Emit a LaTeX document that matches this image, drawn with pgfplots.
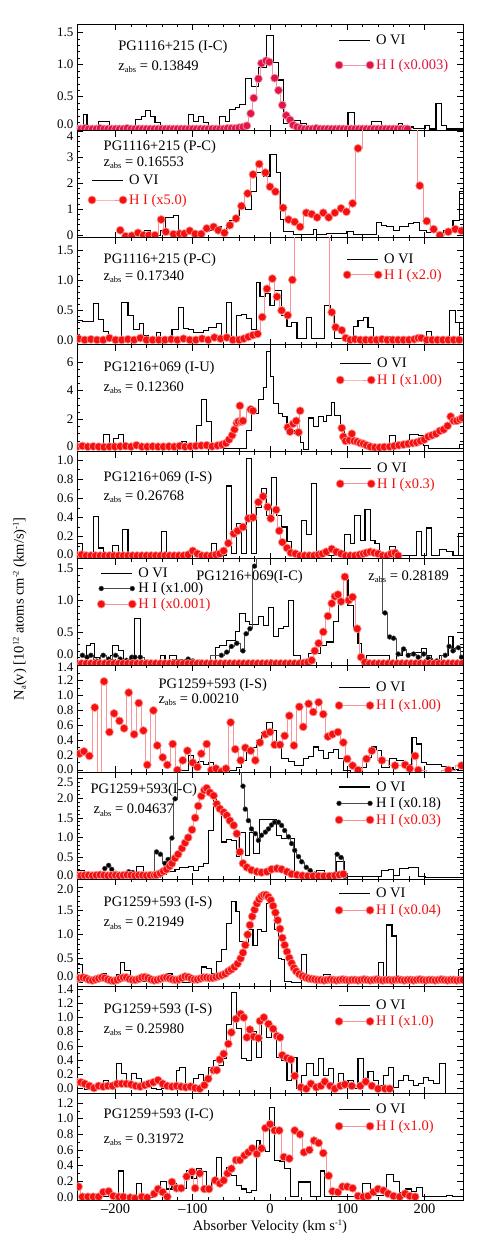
\documentclass[border=0pt]{standalone}
\usepackage{fontspec}
\setmainfont{Liberation Serif}
\usepackage{pgfplots}
\pgfplotsset{compat=1.18}
\definecolor{crim}{RGB}{225,20,70}
\definecolor{hired}{RGB}{245,15,15}
\newcommand\ff{\fontsize{14.5}{17}\selectfont}
\newcommand\sub[1]{\raisebox{-0.35ex}{\fontsize{8.5}{9}\selectfont #1}}
\newcommand\sups[1]{\raisebox{0.75ex}{\fontsize{8.5}{9}\selectfont #1}}
\pgfplotsset{
 panel/.style={width=386pt,height=106.9pt,scale only axis,anchor=north west,
  xmin=-250,xmax=250,xtick={-200,-100,0,100,200},minor x tick num=4,xticklabels={},
  tick align=inside,major tick length=6pt,minor tick length=3pt,
  tick style={black,line width=0.6pt},axis line style={line width=0.8pt},
  clip marker paths=true,unbounded coords=jump,
  xticklabel style={font=\ff},yticklabel style={font=\fontsize{13}{15}\selectfont},
  /pgf/number format/assume math mode=true,
  legend style={draw=none,fill=none,font=\ff,inner sep=0pt,anchor=north west,row sep=1pt,cells={anchor=west}},
  legend cell align=left,
  legend image code/.code={\draw[##1] plot coordinates {(0pt,0pt) (31pt,0pt)};}},
 ytl/.style n args={4}{yticklabel={\ifdim\tick pt<0.001pt\relax\raisebox{#3pt}[\height][\depth]{\pgfmathprintnumber[fixed,fixed zerofill,precision=#2]{\tick}}\else\ifdim\tick pt>#1pt\relax\raisebox{-#4pt}[\height][\depth]{\pgfmathprintnumber[fixed,fixed zerofill,precision=#2]{\tick}}\else\pgfmathprintnumber[fixed,fixed zerofill,precision=#2]{\tick}\fi\fi}},
 ovi/.style={black,line width=1.1pt,const plot,mark=none},
 hi/.style={hired!45,line width=0.7pt,const plot mark mid,mark=*,mark size=4pt,mark options={draw=none,fill=hired}},
 hic/.style={crim!45,line width=0.7pt,const plot mark mid,mark=*,mark size=4pt,mark options={draw=none,fill=crim}},
 hib/.style={black!70,line width=0.5pt,const plot mark mid,mark=*,mark size=2.4pt,mark options={draw=none,fill=black}},
}
\begin{document}
\begin{tikzpicture}
\useasboundingbox (-77pt,24pt) rectangle (408pt,-1225pt);
% ---------- Panel 1
\begin{axis}[panel,at={(0pt,0pt)},ymin=-0.03,ymax=1.63,ytick={0,0.5,1,1.5},minor y tick num=4,ytl={99}{1}{5}{0},
 legend style={at={(rel axis cs:0.668,0.916)},row sep=9pt}]
\addplot[ovi] coordinates {(-250,0.03)(-242,0.22)(-237,0.01)(-222,0.11)(-208,0.03)(-200,0.05)(-194,0.01)(-187,0.04)(-181,0.01)(-174,0.14)(-166,0.2)(-161,0.28)(-155,0.2)(-149,0.1)(-142,0.02)(-106,0.22)(-99,0.11)(-93,0.2)(-86,0.1)(-80,0.02)(-65,0.2)(-58,0.12)(-52,0.3)(-45,0.34)(-39,0.38)(-32,0.79)(-24,0.66)(-15,0.95)(-4,1.45)(4,1.03)(11,0.76)(17,0.08)(26,0.04)(32,0.13)(40,0.08)(47,0.03)(60,0.02)(101,0.25)(110,0.01)(132,0.12)(145,0.01)(166,0.09)(172,0.06)(179,0.03)(186,0.01)(201,0.06)(207,0.0)(215,0.4)(222,0.05)(229,0.0)(250,0.0)};
\addlegendentry{O VI}
\addplot[hic] coordinates {(-250,0)(-245,0)(-240,0.01)(-235,0)(-230,0)(-225,0)(-220,0.01)(-215,0)(-210,0)(-205,0)(-200,0)(-195,0)(-190,0)(-185,0.01)(-180,0)(-175,0)(-170,0)(-165,0)(-160,0)(-155,0)(-150,0)(-145,0)(-140,0)(-135,0)(-130,0)(-125,0)(-120,0)(-115,0)(-110,0)(-105,0)(-100,0)(-95,0)(-90,0)(-85,0)(-80,0)(-75,0)(-70,0)(-65,0)(-60,0)(-55,0.01)(-50,0.01)(-45,0.01)(-40,0.02)(-35,0.03)(-30,0.05)(-25,0.24)(-21,0.48)(-15,0.78)(-11,1.02)(-5,1.06)(-1,1.04)(6,0.79)(11,0.6)(16,0.37)(21,0.21)(26,0.14)(30,0.06)(35,0.03)(40,0.01)(45,0)(50,0)(55,0)(60,0.01)(65,0)(70,0)(75,0)(80,0)(85,0)(90,0)(95,0)(100,0)(105,0)(110,0)(115,0)(120,0)(125,0)(130,0)(135,0)(140,0)(145,0)(150,0)(155,0)(160,0)(165,0)(170,0)(175,0)(178,0)};
\addlegendentry{\textcolor{crim}{H I (x0.003)}}
\node[anchor=west,font=\ff] at (rel axis cs:0.098,0.785) {PG1116+215 (I-C)};
\node[anchor=west,font=\ff] at (rel axis cs:0.098,0.598) {z\sub{abs} = 0.13849};
\end{axis}
% ---------- Panel 2
\begin{axis}[panel,at={(0pt,-106.9pt)},ymin=-0.1,ymax=4.0,ytick={0,1,2,3,4},minor y tick num=4,ytl={3.9}{0}{0}{5},
 legend style={at={(rel axis cs:0.028,0.607)},row sep=4pt}]
\addplot[ovi] coordinates {(-192,0.0)(-183,0.04)(-175,0.0)(-162,0.19)(-155,0.06)(-149,0.0)(-142,0.19)(-135,0.68)(-125,0.77)(-119,0.04)(-114,0.13)(-104,0.06)(-95,0.04)(-86,0.13)(-78,0.19)(-69,0.32)(-63,0.13)(-56,0.35)(-52,0.58)(-45,0.77)(-39,1.06)(-32,0.99)(-24,1.67)(-17,2.4)(-9,2.24)(0,3.1)(8,2.4)(14,0.6)(18,0.13)(30,0.04)(56,0.22)(60,0.04)(73,0.06)(99,0.13)(108,0.04)(138,0.5)(145,0.38)(151,0.32)(160,0.19)(168,0.32)(179,0.45)(186,0.5)(194,0.19)(203,0.09)(225,0.19)(237,0.58)(246,1.67)(250,1.67)};
\addlegendentry{O VI}
\addplot[hi] coordinates {(-194,0.19)(-187,-0.04)(-179,-0.02)(-171,0.09)(-164,0.0)(-157,0.0)(-149,0.0)(-141,0.6)(-135,0.13)(-125,0.04)(-117,0.06)(-111,0.06)(-104,0.17)(-97,0.05)(-89,0.05)(-82,0.26)(-73,0.32)(-67,0.19)(-59,0.09)(-52,0.38)(-44,0.64)(-37,1.12)(-29,1.6)(-22,2.33)(-14,2.73)(-6,2.4)(0,1.86)(7,1.67)(17,1.05)(24,0.6)(32,0.51)(39,0.32)(47,0.86)(54,0.81)(61,0.68)(69,0.86)(76,0.68)(84,0.86)(92,1.03)(99,0.9)(107,1.22)(114,3.33)(124,9)(134,9)(144,9)(154,9)(164,9)(174,9)(189,9)(194,1.9)(203,0.54)(212,0.23)(220,0.0)(231,0.13)(240,0.23)(248,0.17)};
\addlegendentry{\textcolor{hired}{H I (x5.0)}}
\node[anchor=west,font=\ff] at (rel axis cs:0.06,0.85) {PG1116+215 (P-C)};
\node[anchor=west,font=\ff] at (rel axis cs:0.06,0.70) {z\sub{abs} = 0.16553};
\end{axis}
% ---------- Panel 3
\begin{axis}[panel,at={(0pt,-213.8pt)},ymin=-0.08,ymax=1.7,ytick={0,0.5,1,1.5},minor y tick num=4,ytl={1.4}{1}{0}{0},
 legend style={at={(rel axis cs:0.689,0.87)},row sep=0pt}]
\addplot[ovi] coordinates {(-250,0.33)(-243,0.31)(-229,0.6)(-222,0.34)(-216,0.14)(-209,0.02)(-192,0.63)(-184,0.4)(-177,0.17)(-169,0.28)(-164,0.07)(-158,0.02)(-147,0.12)(-142,0.03)(-127,0.18)(-119,0.54)(-112,0.19)(-106,0.17)(-99,0.12)(-86,0.15)(-80,0.21)(-69,0.27)(-63,0.03)(-56,0.63)(-50,0.03)(-43,0.4)(-37,0.43)(-30,0.35)(-24,0.17)(-18,0.96)(-13,0.72)(-6,0.77)(0,0.57)(6,0.82)(15,0.4)(22,0.23)(28,0.29)(35,0.02)(47,0.37)(54,0.02)(71,0.57)(78,0.49)(84,0.03)(108,0.23)(114,0.32)(121,0.37)(127,0.2)(134,0.03)(150,0.05)(160,0.02)(203,0.14)(209,0.03)(233,0.49)(240,0.29)(246,0.02)(250,0.02)};
\addlegendentry{O VI}
\addplot[hi] coordinates {(-248,0.02)(-240,0.0)(-232,0.01)(-224,0.0)(-216,0.0)(-208,0.03)(-200,0.0)(-192,0.0)(-184,0.01)(-176,0.0)(-168,0.03)(-160,0.0)(-152,0.0)(-144,0.0)(-136,0.0)(-128,0.01)(-120,0.0)(-112,0.02)(-104,0.0)(-96,0.0)(-88,0.02)(-80,0.0)(-72,0.04)(-64,0.02)(-56,0.04)(-48,0.0)(-40,0.0)(-34,0.02)(-28,0.05)(-22,0.08)(-16,0.1)(-10,0.38)(-4,0.85)(3,1.02)(9,0.72)(15,0.49)(23,0.41)(29,1.0)(35,5)(45,5)(55,5)(65,5)(75,5)(80,0.46)(85,0.21)(93,0.16)(98,0.03)(104,0.0)(110,0.01)(117,0.0)(124,0.0)(131,0.0)(138,0.0)(145,0.01)(152,0.0)(159,0.0)(166,0.0)(173,0.0)(180,0.0)(187,0.01)(192,0.03)(196,0.03)(203,0.0)(210,0.0)(217,0.0)(224,0.0)(231,0.0)(238,0.0)(245,0.0)};
\addlegendentry{\textcolor{hired}{H I (x2.0)}}
\node[anchor=west,font=\ff] at (rel axis cs:0.06,0.794) {PG1116+215 (P-C)};
\node[anchor=west,font=\ff] at (rel axis cs:0.06,0.636) {z\sub{abs} = 0.17340};
\end{axis}
% ---------- Panel 4
\begin{axis}[panel,at={(0pt,-320.7pt)},ymin=-0.24,ymax=7.2,ytick={0,2,4,6},minor y tick num=3,ytl={5.9}{0}{2}{0},
 legend style={at={(rel axis cs:0.671,0.895)},row sep=1pt}]
\addplot[ovi] coordinates {(-250,0.05)(-243,0.0)(-216,0.94)(-208,0.3)(-203,0.66)(-196,0.94)(-190,0.07)(-186,0.0)(-175,0.05)(-168,0.0)(-114,0.47)(-108,0.0)(-95,1.6)(-89,3.4)(-82,1.84)(-76,0.19)(-69,0.0)(-30,1.25)(-24,2.42)(-15,3.36)(-9,4.19)(-4,6.73)(1,5.0)(5,3.13)(11,2.42)(16,2.19)(22,1.53)(28,1.25)(32,1.0)(39,0.42)(43,-0.1)(50,2.1)(56,1.48)(63,2.2)(69,1.84)(73,2.3)(80,3.2)(84,2.3)(91,1.6)(97,0.42)(104,0.3)(132,0.05)(155,0.9)(162,0.05)(181,0.94)(192,0.85)(199,0.2)(205,0.0)(246,0.25)(250,0.25)};
\addlegendentry{O VI}
\addplot[hi] coordinates {(-250,0.1)(-243,0.15)(-236,0.1)(-229,0.12)(-222,0.1)(-215,0.08)(-208,0.1)(-201,0.1)(-194,0.12)(-187,0.14)(-180,0.1)(-173,0.2)(-166,0.1)(-159,0.1)(-152,0.12)(-145,0.1)(-138,0.1)(-131,0.12)(-124,0.1)(-117,0.15)(-110,0.1)(-103,0.12)(-96,0.15)(-89,0.18)(-82,0.2)(-75,0.12)(-68,0.18)(-62,0.25)(-57,0.35)(-53,0.6)(-49,0.9)(-46,1.3)(-43,1.75)(-41,1.85)(-39,2.95)(-37,1.85)(-35,1.9)(-25,2.7)(-22,2.6)(0,nan)(23,1.45)(26,1.15)(30,1.7)(34,1.9)(37,1.1)(39,2.6)(60,nan)(93,1.4)(95,0.8)(98,0.5)(103,0.55)(106,1.0)(109,0.5)(113,0.45)(117,0.35)(121,0.3)(125,0.2)(130,0.1)(136,0.05)(142,0.05)(148,0.08)(155,0.1)(161,0.15)(167,0.2)(173,0.25)(179,0.3)(185,0.35)(190,0.4)(195,0.5)(200,0.6)(205,0.8)(210,0.9)(215,1.0)(220,1.2)(225,1.3)(230,1.55)(234,2.2)(238,1.9)(242,1.9)(246,2.0)(249,2.1)};
\addlegendentry{\textcolor{hired}{H I (x1.00)}}
\node[anchor=west,font=\ff] at (rel axis cs:0.06,0.785) {PG1216+069 (I-U)};
\node[anchor=west,font=\ff] at (rel axis cs:0.06,0.598) {z\sub{abs} = 0.12360};
\end{axis}
% ---------- Panel 5
\begin{axis}[panel,at={(0pt,-427.6pt)},ymin=-0.03,ymax=1.09,ytick={0,0.2,0.4,0.6,0.8,1.0},minor y tick num=1,ytl={0.9}{1}{1.5}{0},
 legend style={at={(rel axis cs:0.671,0.915)},row sep=0pt}]
\addplot[ovi] coordinates {(-250,0.13)(-243,0.0)(-229,0.41)(-222,0.08)(-216,0.0)(-204,0.11)(-196,0.0)(-191,0.27)(-184,0.0)(-140,0.25)(-134,0.0)(-127,0.02)(-121,0.0)(-101,0.03)(-95,0.0)(-76,0.13)(-69,0.0)(-56,0.73)(-50,0.02)(-43,0.34)(-37,0.02)(-30,1.02)(-24,0.02)(-17,0.5)(-11,0.7)(-4,0.42)(2,0.82)(9,0.42)(15,0.3)(22,0.15)(28,0.02)(41,0.37)(47,0.22)(54,0.76)(60,0.0)(97,0.22)(104,0.13)(110,0.42)(117,0.16)(123,0.48)(130,0.16)(136,0.13)(142,0.0)(155,0.1)(162,0.0)(190,0.25)(196,0.0)(203,0.29)(209,0.0)(220,0.06)(229,0.04)(237,0.0)(244,0.23)(250,0.23)};
\addlegendentry{O VI}
\addplot[hi] coordinates {(-250,0.0)(-244,0.01)(-238,0.0)(-232,0.0)(-226,0.0)(-220,0.0)(-214,0.0)(-208,0.0)(-202,0.0)(-196,0.0)(-190,0.0)(-184,0.0)(-178,0.0)(-172,0.0)(-166,0.0)(-160,0.0)(-154,0.0)(-148,0.0)(-142,0.0)(-136,0.0)(-130,0.0)(-124,0.0)(-118,0.0)(-112,0.0)(-106,0.01)(-100,0.05)(-94,0.02)(-88,0.0)(-82,0.0)(-76,0.0)(-70,0.01)(-65,0.02)(-60,0.05)(-54,0.13)(-47,0.23)(-42,0.26)(-35,0.3)(-28,0.39)(-22,0.4)(-15,0.56)(-9,0.62)(-3,0.51)(1,0.39)(8,0.48)(12,0.26)(16,0.14)(22,0.08)(27,0.03)(33,0.02)(39,0.0)(45,0.0)(51,0.0)(57,0.0)(63,0.01)(68,0.02)(73,0.04)(80,0.07)(86,0.04)(92,0.02)(98,0.0)(104,0.0)(110,0.0)(116,0.01)(121,0.02)(125,0.03)(130,0.04)(135,0.03)(140,0.02)(146,0.0)(152,0.0)(157,0.02)(162,0.03)(166,0.0)};
\addlegendentry{\textcolor{hired}{H I (x0.3)}}
\node[anchor=west,font=\ff] at (rel axis cs:0.06,0.757) {PG1216+069 (I-S)};
\node[anchor=west,font=\ff] at (rel axis cs:0.06,0.579) {z\sub{abs} = 0.26768};
\end{axis}
% ---------- Panel 6
\begin{axis}[panel,at={(0pt,-534.5pt)},ymin=-0.03,ymax=1.66,ytick={0,0.5,1,1.5},minor y tick num=4,ytl={1.4}{1}{9}{0},
 ylabel={N\sub{a}(v) [10\sups{12} atoms cm\sups{-2} (km/s)\sups{-1}]},
 ylabel style={font=\ff,at={(rel axis cs:-0.148,0.53)},anchor=center},
 legend style={at={(rel axis cs:0.052,0.935)},row sep=0pt}]
\addplot[ovi] coordinates {(-250,0.03)(-238,0.29)(-232,0.32)(-227,0.1)(-221,0.02)(-207,0.13)(-204,0.29)(-196,0.21)(-190,0.02)(-181,0.1)(-175,0.71)(-168,0.02)(-162,0.0)(-142,0.13)(-136,0.05)(-130,0.13)(-121,0.02)(-71,0.26)(-65,0.29)(-56,0.37)(-45,0.5)(-39,0.79)(-32,0.66)(-26,0.62)(-15,0.74)(-9,0.6)(-2,0.89)(4,0.42)(11,0.55)(17,0.58)(24,1.0)(30,0.13)(39,0.05)(50,0.16)(65,0.29)(73,0.34)(82,0.66)(89,0.95)(95,1.33)(101,0.92)(108,0.55)(114,0.32)(119,0.02)(125,0.13)(155,0.05)(164,0.13)(171,0.21)(177,0.16)(186,0.17)(196,0.24)(203,0.13)(209,0.02)(220,0.13)(231,0.42)(237,0.24)(244,0.26)(250,0.26)};
\addlegendentry{O VI}
\addplot[hib] coordinates {(-243,0.13)(-237,0.1)(-232,0.13)(-225,0.04)(-216,0.13)(-209,0.07)(-200,0.13)(-194,0.07)(-186,0.05)(-179,0.1)(-175,0.1)(-168,0.1)(-158,0.02)(-147,0.01)(-106,0.07)(-100,0.04)(-91,0.02)(-63,0.13)(-56,0.18)(-50,0.27)(-43,0.32)(-35,0.2)(-31,0.47)(-26,0.55)(-20,1.54)(-15,9)(0,9)(20,9)(40,9)(60,9)(80,9)(100,9)(120,9)(142,9)(149,0.8)(155,0.42)(160,0.4)(166,0.15)(173,0.23)(179,0.13)(186,0.15)(192,0.1)(199,0.15)(205,0.08)(216,0.04)(227,0.13)(232,0.27)(237,0.2)(244,0.25)(248,0.1)};
\addlegendentry{H I (x1.00)}
\addplot[hi] coordinates {(-250,0)(-244,0)(-238,0)(-232,0)(-226,0)(-220,0)(-214,0)(-208,0)(-202,0)(-196,0)(-190,0)(-184,0)(-178,0)(-172,0)(-166,0)(-160,0)(-154,0)(-148,0)(-142,0)(-136,0)(-130,0)(-124,0)(-118,0)(-112,0)(-106,0)(-100,0)(-94,0)(-88,0)(-82,0)(-76,0)(-70,0)(-64,0)(-58,0)(-52,0)(-46,0)(-40,0)(-34,0)(-28,0)(-22,0)(-16,0)(-10,0)(-4,0)(2,0)(8,0)(14,0)(20,0)(26,0)(32,0)(38,0)(44,0.01)(49,0.02)(54,0.05)(58,0.2)(63,0.32)(69,0.5)(75,0.75)(80,0.95)(84,1.06)(88,1.09)(92,0.98)(97,1.37)(102,1.0)(107,1.05)(113,0.55)(118,0.1)(123,0.02)(129,0)(135,0)(141,0)(147,0)(153,0)(159,0)(165,0)(171,0)(177,0)(183,0)(189,0)(195,0)(201,0)(207,0)(213,0)(219,0)(225,0)(231,0)(237,0)(243,0)(249,0)};
\addlegendentry{\textcolor{hired}{H I (x0.001)}}
\node[anchor=west,font=\ff] at (rel axis cs:0.30,0.83) {PG1216+069(I-C)};
\node[anchor=west,font=\ff] at (rel axis cs:0.746,0.83) {z\sub{abs} = 0.28189};
\end{axis}
% ---------- Panel 7
\begin{axis}[panel,at={(0pt,-641.4pt)},ymin=-0.03,ymax=1.405,ytick={0,0.2,0.4,0.6,0.8,1.0,1.2,1.4},minor y tick num=1,ytl={1.3}{1}{1}{1.5},
 legend style={at={(rel axis cs:0.668,0.869)},row sep=3pt}]
\addplot[ovi] coordinates {(-123,0.0)(-106,0.2)(-99,0.1)(-93,0.12)(-86,0.07)(-80,0.1)(-73,0.0)(-65,-0.03)(-52,0.0)(-43,0.04)(-37,0.13)(-30,0.24)(-24,0.3)(-17,0.4)(-11,0.51)(-4,0.64)(3,0.53)(9,0.3)(15,0.16)(24,0.12)(32,0.06)(43,0.15)(50,0.18)(56,0.31)(63,0.26)(69,0.16)(76,0.24)(82,0.28)(89,0.16)(95,0.0)(104,-0.03)(117,0.03)(125,0.17)(132,0.31)(138,0.26)(145,0.04)(155,0.16)(164,0.13)(173,0.08)(184,0.44)(190,0.35)(196,0.1)(203,0.07)(214,0.07)(222,0.05)(231,0.03)(237,0.01)(244,0.04)(250,0.04)};
\addlegendentry{O VI}
\addplot[hi] coordinates {(-247,0.22)(-241,0.25)(-234,0.19)(-227,0.84)(-221,-0.05)(-215,1.19)(-208,0.51)(-202,0.76)(-195,0.66)(-189,0.56)(-183,1.04)(-176,0.48)(-170,0.9)(-164,0.53)(-159,0.07)(-151,0.8)(-146,0.33)(-139,0.17)(-133,0.07)(-126,0.35)(-120,0.0)(-113,0.13)(-107,0.26)(-100,0.1)(-94,0.04)(-89,0.22)(-82,0.35)(-76,0.0)(-70,0.02)(-63,-0.02)(-57,0.02)(-51,0.64)(-45,0.28)(-38,0.13)(-32,0.3)(-25,0.26)(-19,0.13)(-13,0.37)(-6,0.48)(0,0.51)(6,0.34)(13,0.34)(19,0.46)(25,0.73)(31,0.33)(38,0.85)(43,0.58)(50,0.89)(56,0.78)(63,0.91)(69,0.75)(75,0.45)(81,0.48)(88,0.51)(95,0.37)(100,0.15)(107,0.06)(114,0.0)(125,0.15)(132,0.26)(145,0.13)(162,0.06)(175,0.07)(181,0.02)(188,0.19)(192,0.0)(212,-0.05)(231,0.0)(248,0.06)};
\addlegendentry{\textcolor{hired}{H I (x1.00)}}
\node[anchor=west,font=\ff] at (rel axis cs:0.202,0.82) {PG1259+593 (I-S)};
\node[anchor=west,font=\ff] at (rel axis cs:0.202,0.68) {z\sub{abs} = 0.00210};
\end{axis}
% ---------- Panel 8
\begin{axis}[panel,at={(0pt,-748.3pt)},ymin=-0.05,ymax=2.65,ytick={0,0.5,1,1.5,2,2.5},minor y tick num=4,ytl={2.4}{1}{2}{4},
 legend style={at={(rel axis cs:0.668,0.935)},row sep=1pt}]
\addplot[ovi] coordinates {(-250,0.18)(-240,0.06)(-225,0.02)(-173,0.27)(-164,0.02)(-153,0.0)(-142,0.08)(-134,0.14)(-123,0.2)(-117,0.25)(-106,0.28)(-99,0.18)(-93,0.27)(-86,0.35)(-80,1.17)(-73,2.03)(-69,1.7)(-63,0.89)(-56,0.95)(-50,0.93)(-43,0.52)(-39,1.14)(-32,0.56)(-26,1.14)(-21,0.6)(-14,1.45)(9,1.06)(15,0.98)(32,0.0)(60,0.17)(71,0.08)(86,0.39)(97,0.02)(145,0.17)(153,0.2)(160,0.05)(168,0.22)(179,0.25)(192,0.02)(201,0.0)(250,0.0)};
\addlegendentry{O VI}
\addplot[hib] coordinates {(-214,0.22)(-209,0.3)(-205,0.2)(-200,0.1)(-190,0.05)(-183,0.14)(-178,0.12)(-170,0.05)(-160,0.03)(-153,0.05)(-147,0.64)(-142,0.58)(-136,0.35)(-132,0.45)(-127,0.99)(-123,1.98)(-118,9)(-80,9)(-40,9)(-35,2.3)(-32,1.72)(-28,1.43)(-24,1.22)(-19,1.1)(-15,0.93)(-11,1.06)(-6,1.14)(-2,1.22)(2,1.32)(6,1.39)(11,1.39)(15,1.31)(19,1.18)(24,1.02)(28,0.85)(32,0.68)(37,0.52)(41,0.39)(47,0.25)(52,0.17)(58,0.08)(65,0.04)(73,0.03)(81,0.06)(87,0.58)(92,0.5)(97,0.02)};
\addlegendentry{H I (x0.18)}
\addplot[hi] coordinates {(-250,0.05)(-245,0.04)(-240,0.05)(-235,0.05)(-230,0.04)(-225,0.05)(-220,0.06)(-215,0.05)(-210,0.04)(-205,0.05)(-200,0.05)(-195,0.04)(-190,0.05)(-185,0.06)(-180,0.05)(-175,0.04)(-170,0.05)(-165,0.05)(-160,0.04)(-155,0.05)(-150,0.05)(-147,0.06)(-142,0.1)(-138,0.15)(-134,0.2)(-130,0.28)(-127,0.35)(-123,0.48)(-119,0.58)(-114,0.73)(-110,0.87)(-106,1.0)(-101,1.2)(-97,1.5)(-93,1.8)(-89,2.05)(-85,2.2)(-82,2.25)(-78,2.14)(-73,2.06)(-69,1.85)(-65,1.73)(-60,1.64)(-56,1.56)(-52,1.43)(-47,1.31)(-43,1.1)(-39,0.64)(-35,0.35)(-30,0.25)(-24,0.18)(-17,0.14)(-11,0.12)(-4,0.14)(2,0.2)(9,0.22)(15,0.2)(22,0.14)(28,0.08)(35,0.06)(42,0.04)(49,0.03)(56,0.03)(63,0.03)(70,0.03)(77,0.03)(84,0.04)(90,0.06)(95,0.08)};
\addlegendentry{\textcolor{hired}{H I (x0.03)}}
\node[anchor=west,font=\ff] at (rel axis cs:0.026,0.83) {PG1259+593(I-C)};
\node[anchor=west,font=\ff] at (rel axis cs:0.034,0.645) {z\sub{abs} = 0.04637};
\end{axis}
% ---------- Panel 9
\begin{axis}[panel,at={(0pt,-855.2pt)},ymin=-0.08,ymax=2.16,ytick={0,0.5,1,1.5,2},minor y tick num=4,ytl={1.9}{1}{6}{2},
 legend style={at={(rel axis cs:0.668,0.935)},row sep=1pt}]
\addplot[ovi] coordinates {(-250,0.37)(-243,0.09)(-237,0.04)(-231,0.09)(-225,0.02)(-218,0.18)(-212,0.06)(-205,0.09)(-199,0.16)(-194,0.42)(-188,0.25)(-181,0.0)(-172,0.07)(-165,0.02)(-158,0.11)(-149,0.04)(-140,0.11)(-134,0.19)(-127,0.04)(-123,0.0)(-101,0.04)(-95,0.11)(-89,0.32)(-82,0.28)(-76,0.18)(-69,0.44)(-63,0.68)(-56,1.24)(-50,1.69)(-44,1.48)(-39,0.85)(-34,0.82)(-28,1.1)(-22,0.78)(-16,1.1)(-11,1.06)(-5,1.65)(1,1.55)(6,1.1)(11,0.5)(15,0.47)(19,0.02)(28,0.0)(41,0.58)(47,0.05)(60,0.02)(69,0.16)(78,0.09)(86,0.02)(95,0.07)(104,0.02)(117,0.0)(134,0.09)(140,0.42)(147,0.05)(151,1.2)(158,0.97)(164,0.05)(171,0.02)(179,0.11)(186,0.07)(199,0.04)(207,0.09)(214,0.06)(220,0.02)(229,0.09)(237,0.04)(244,0.26)(250,0.26)};
\addlegendentry{O VI}
\addplot[hi] coordinates {(-250,0.07)(-246,0.09)(-242,0.1)(-238,0.08)(-234,0.05)(-230,0.04)(-226,0.06)(-222,0.08)(-218,0.1)(-214,0.09)(-210,0.06)(-206,0.04)(-202,0.03)(-198,0.05)(-194,0.08)(-190,0.1)(-186,0.1)(-182,0.07)(-178,0.05)(-174,0.05)(-170,0.07)(-166,0.1)(-162,0.11)(-158,0.09)(-154,0.06)(-150,0.04)(-146,0.05)(-142,0.07)(-138,0.09)(-134,0.1)(-130,0.08)(-126,0.06)(-122,0.05)(-118,0.06)(-114,0.09)(-110,0.12)(-106,0.11)(-102,0.08)(-98,0.06)(-94,0.06)(-90,0.08)(-86,0.1)(-82,0.1)(-78,0.09)(-74,0.09)(-70,0.11)(-66,0.13)(-62,0.15)(-58,0.18)(-54,0.23)(-50,0.27)(-46,0.32)(-42,0.39)(-38,0.5)(-35,0.62)(-32,0.78)(-29,1.0)(-26,1.2)(-23,1.38)(-20,1.52)(-17,1.65)(-14,1.74)(-11,1.8)(-8,1.83)(-5,1.83)(-2,1.79)(1,1.72)(4,1.6)(7,1.46)(10,1.3)(13,1.12)(16,0.93)(19,0.78)(22,0.64)(25,0.51)(28,0.4)(31,0.3)(34,0.23)(38,0.17)(42,0.13)(46,0.1)(50,0.08)(54,0.07)(58,0.06)(62,0.05)(66,0.05)(70,0.04)(74,0.05)(78,0.06)(82,0.05)(86,0.04)(90,0.05)(94,0.06)(98,0.05)(102,0.04)(106,0.05)(110,0.05)(114,0.04)(118,0.05)(122,0.06)(126,0.05)(130,0.04)(134,0.05)(138,0.06)(142,0.05)(146,0.04)(150,0.05)(154,0.05)(158,0.04)(162,0.05)(166,0.06)(170,0.05)(174,0.04)(178,0.05)(182,0.05)(186,0.04)(190,0.05)(194,0.06)(198,0.05)(202,0.04)(206,0.05)(210,0.05)(214,0.04)(218,0.05)(222,0.06)(226,0.05)(230,0.04)(234,0.05)(238,0.05)(242,0.04)(246,0.05)(250,0.05)};
\addlegendentry{\textcolor{hired}{H I (x0.04)}}
\node[anchor=west,font=\ff] at (rel axis cs:0.06,0.776) {PG1259+593 (I-S)};
\node[anchor=west,font=\ff] at (rel axis cs:0.06,0.589) {z\sub{abs} = 0.21949};
\end{axis}
% ---------- Panel 10
\begin{axis}[panel,at={(0pt,-962.1pt)},ymin=-0.06,ymax=1.44,ytick={0,0.2,0.4,0.6,0.8,1.0,1.2,1.4},minor y tick num=1,ytl={1.3}{1}{0}{0},
 legend style={at={(rel axis cs:0.668,0.895)},row sep=1pt}]
\addplot[ovi] coordinates {(-250,0.07)(-247,0.09)(-240,-0.01)(-216,0.12)(-209,0.04)(-199,0.35)(-192,0.21)(-186,0.09)(-179,0.21)(-173,0.14)(-166,0.04)(-160,0.07)(-153,0.0)(-147,-0.01)(-140,0.01)(-121,0.26)(-117,0.3)(-110,0.06)(-106,0.02)(-99,0.14)(-93,0.2)(-86,0.12)(-80,0.3)(-73,0.4)(-67,0.33)(-60,0.42)(-56,0.9)(-50,1.35)(-43,0.84)(-37,0.42)(-30,0.4)(-24,0.8)(-17,0.44)(-11,0.98)(-4,0.72)(2,0.84)(9,0.44)(15,0.4)(22,0.12)(28,0.44)(35,0.0)(41,0.19)(47,0.35)(56,0.19)(63,0.42)(69,0.19)(76,0.28)(82,0.0)(89,0.21)(95,0.02)(101,0.12)(108,0.0)(114,0.43)(121,0.07)(127,0.24)(134,0.12)(140,0.05)(147,0.19)(153,0.3)(160,0.02)(166,0.12)(173,0.19)(179,0.12)(186,0.04)(192,0.07)(199,0.16)(205,0.12)(212,0.07)(220,0.36)(227,-0.06)};
\addlegendentry{O VI}
\addplot[hi] coordinates {(-250,0.09)(-245,0.09)(-240,0.07)(-234,0.04)(-228,0.01)(-222,0.04)(-216,0.03)(-210,0.04)(-204,0.04)(-198,0.07)(-192,0.07)(-186,0.07)(-180,0.06)(-174,0.04)(-168,0.03)(-162,0.05)(-157,0.07)(-151,0.09)(-145,0.12)(-139,0.07)(-133,0.04)(-127,0.03)(-121,0.04)(-115,0.03)(-109,0.02)(-103,0.03)(-97,0.01)(-91,0.0)(-85,0.05)(-80,0.14)(-73,0.26)(-69,0.26)(-65,0.41)(-60,0.49)(-54,0.63)(-50,0.79)(-44,0.98)(-38,1.05)(-34,1.0)(-30,0.72)(-26,0.83)(-21,0.73)(-15,0.71)(-13,0.95)(-8,1.0)(-2,0.91)(4,0.84)(9,0.74)(13,0.72)(16,0.47)(22,0.43)(27,0.41)(32,0.18)(40,0.02)(47,0.0)(53,0.07)(60,0.02)(66,0.04)(71,0.1)(78,0.04)(84,0.0)(91,0.04)(97,0.06)(106,0.04)(117,0.04)(124,0.1)(132,0.04)(140,0.0)(149,0.0)(155,0.0)};
\addlegendentry{\textcolor{hired}{H I (x1.0)}}
\node[anchor=west,font=\ff] at (rel axis cs:0.06,0.776) {PG1259+593 (I-S)};
\node[anchor=west,font=\ff] at (rel axis cs:0.06,0.589) {z\sub{abs} = 0.25980};
\end{axis}
% ---------- Panel 11
\begin{axis}[panel,at={(0pt,-1069.0pt)},ymin=-0.04,ymax=1.33,ytick={0,0.2,0.4,0.6,0.8,1.0,1.2},minor y tick num=1,ytl={1.1}{1}{0}{0},
 xticklabels={--200,--100,0,100,200},
 xlabel={Absorber Velocity (km s\sups{-1})},xlabel style={font=\ff},
 legend style={at={(rel axis cs:0.668,0.915)},row sep=1pt}]
\addplot[ovi] coordinates {(-250,0.0)(-229,0.03)(-222,0.0)(-209,0.03)(-203,0.0)(-196,0.33)(-190,0.0)(-173,0.17)(-166,0.01)(-158,-0.01)(-151,0.06)(-142,0.2)(-134,0.1)(-127,0.17)(-121,0.11)(-108,0.34)(-101,0.23)(-95,0.36)(-89,0.32)(-82,0.1)(-76,0.21)(-69,0.5)(-63,0.21)(-56,0.38)(-50,0.27)(-43,0.14)(-37,0.1)(-30,0.06)(-24,0.08)(-17,0.72)(-13,0.62)(-6,0.58)(-1,1.14)(6,0.47)(13,0.45)(19,0.36)(26,0.0)(37,0.19)(52,0.0)(65,0.33)(71,0.0)(120,0.17)(130,0.02)(147,0.08)(151,0.28)(160,0.2)(168,0.05)(175,0.1)(183,0.07)(190,0.12)(198,0.0)(229,0.02)(236,0.0)(250,0.0)};
\addlegendentry{O VI}
\addplot[hi] coordinates {(-248,0.13)(-243,0.0)(-236,0.0)(-229,0.0)(-222,0.0)(-216,0.06)(-209,0.07)(-203,0.01)(-196,0.0)(-190,0.0)(-181,-0.01)(-175,-0.02)(-166,0.0)(-159,-0.01)(-150,0.04)(-145,0.1)(-139,0.06)(-133,0.0)(-127,0.19)(-121,0.11)(-115,0.11)(-108,0.26)(-101,0.32)(-97,0.11)(-91,0.3)(-85,0.1)(-79,0.1)(-71,0.21)(-65,0.17)(-60,0.21)(-55,0.3)(-50,0.36)(-44,0.47)(-39,0.47)(-33,0.53)(-28,0.57)(-23,0.62)(-17,0.55)(-11,0.62)(-6,0.88)(0,0.93)(6,0.85)(12,0.85)(18,0.51)(25,0.49)(32,0.85)(39,0.8)(44,0.57)(51,0.6)(57,0.72)(63,0.69)(69,0.56)(76,0.27)(81,0.07)(88,0.06)(94,0.13)(100,0.13)(107,0.11)(114,0.01)(121,0.0)(127,0.01)(134,0.06)(140,0.1)(147,0.08)(153,0.04)(160,0.01)(168,0.0)(175,0.04)(181,0.01)(188,0.0)};
\addlegendentry{\textcolor{hired}{H I (x1.0)}}
\node[anchor=west,font=\ff] at (rel axis cs:0.06,0.794) {PG1259+593 (I-C)};
\node[anchor=west,font=\ff] at (rel axis cs:0.06,0.561) {z\sub{abs} = 0.31972};
\end{axis}
\end{tikzpicture}
\end{document}
